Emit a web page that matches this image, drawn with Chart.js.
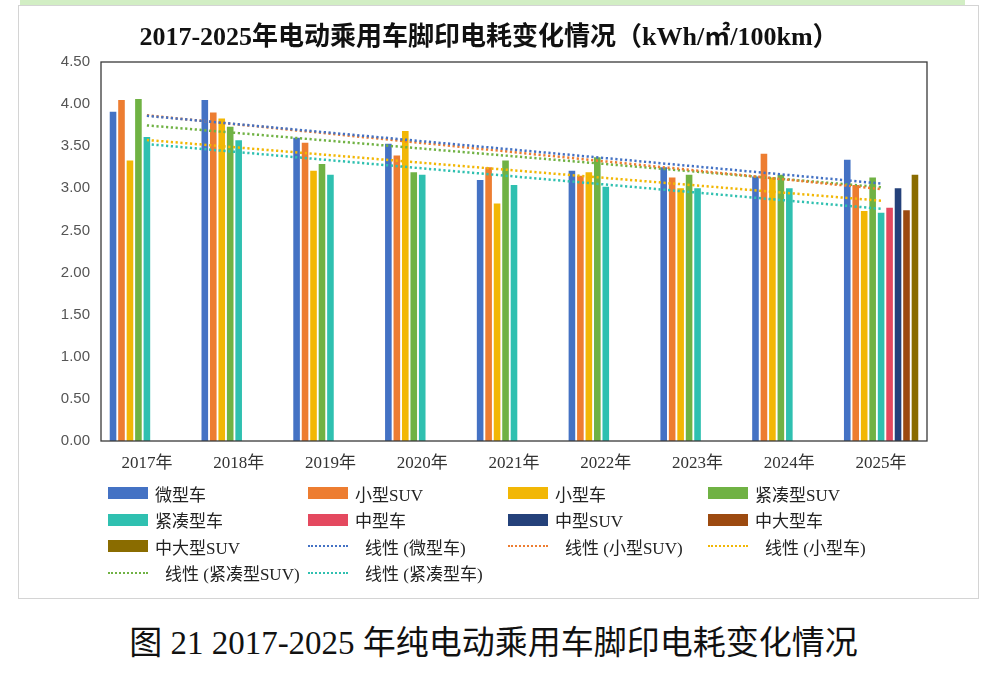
<!DOCTYPE html>
<html>
<head>
<meta charset="utf-8">
<script src="https://cdn.jsdelivr.net/npm/chart.js@4"></script>
<style>
    html, body { margin: 0; padding: 0; background: #ffffff; }
    body { width: 987px; height: 682px; position: relative; overflow: hidden; }
    .topband { position: absolute; left: 20px; top: 0; width: 945px; height: 5px; background: #d2eec4; }
    .frame { position: absolute; left: 18px; top: 5px; width: 961px; height: 594px;
             border: 1px solid #d4d4d4; box-sizing: border-box; background: #fff; }
    .chartbox { position: absolute; left: 18px; top: 5px; width: 962px; height: 480px; }
    .legend { position: absolute; left: 108px; top: 480px; width: 820px;
              display: grid; grid-template-columns: repeat(4, 200px); grid-auto-rows: 26.5px;
              font-family: "Liberation Serif", "Noto Sans CJK SC", serif; font-size: 17px; color: #222; }
    .legend .item { display: flex; align-items: center; white-space: nowrap; }
    .legend .sw { width: 40px; height: 12px; margin-right: 7px; flex: none; }
    .legend .dot { width: 40px; height: 0; border-top: 2px dotted; margin-right: 17px; flex: none; }
    .caption { position: absolute; left: 0; width: 987px; top: 616px; text-align: center;
               font-family: "Liberation Serif", "Noto Sans CJK SC", serif; font-size: 33px; color: #111; }
</style>
</head>
<body>
<div class="topband"></div>
<div class="frame"></div>
<div class="chartbox"><canvas id="footprintChart"></canvas></div>
<div class="legend" id="legend"></div>
<div class="caption">图 21 2017-2025 年纯电动乘用车脚印电耗变化情况</div>
<script>
    const categories = ['2017年', '2018年', '2019年', '2020年', '2021年', '2022年', '2023年', '2024年', '2025年'];

    const microCar    = [3.91, 4.05, 3.60, 3.53, 3.10, 3.21, 3.25, 3.14, 3.34];
    const smallSuv    = [4.05, 3.90, 3.54, 3.39, 3.25, 3.15, 3.13, 3.41, 3.04];
    const smallCar    = [3.33, 3.83, 3.21, 3.68, 2.82, 3.19, 3.00, 3.13, 2.73];
    const compactSuv  = [4.06, 3.73, 3.29, 3.19, 3.33, 3.37, 3.16, 3.16, 3.13];
    const compactCar  = [3.61, 3.57, 3.16, 3.16, 3.04, 3.02, 3.00, 3.00, 2.71];
    const midCar      = [null, null, null, null, null, null, null, null, 2.77];
    const midSuv      = [null, null, null, null, null, null, null, null, 3.00];
    const midLargeCar = [null, null, null, null, null, null, null, null, 2.74];
    const midLargeSuv = [null, null, null, null, null, null, null, null, 3.16];

    const yTicks = [0, 0.5, 1, 1.5, 2, 2.5, 3, 3.5, 4, 4.5];

    const barSeries = [
        { label: '微型车', data: microCar, color: '#4472c4', trend: true },
        { label: '小型SUV', data: smallSuv, color: '#ed7d31', trend: true },
        { label: '小型车', data: smallCar, color: '#f2b705', trend: true },
        { label: '紧凑型SUV', data: compactSuv, color: '#70b244', trend: true },
        { label: '紧凑型车', data: compactCar, color: '#2fc0b0', trend: true },
        { label: '中型车', data: midCar, color: '#e4495f' },
        { label: '中型SUV', data: midSuv, color: '#24417a' },
        { label: '中大型车', data: midLargeCar, color: '#9c4a10' },
        { label: '中大型SUV', data: midLargeSuv, color: '#8a6c00' },
    ];

    // least-squares trend over the category index, like Excel's linear trendline
    function linearTrend(values) {
        const n = values.length;
        let sx = 0, sy = 0, sxy = 0, sxx = 0;
        values.forEach((v, i) => {
            const x = i + 1;
            sx += x; sy += v; sxy += x * v; sxx += x * x;
        });
        const slope = (n * sxy - sx * sy) / (n * sxx - sx * sx);
        const icpt = (sy - slope * sx) / n;
        return values.map((v, i) => icpt + slope * (i + 1));
    }

    const datasets = [];

    barSeries.forEach((s) => {
        datasets.push({
            type: 'bar',
            label: s.label,
            data: s.data,
            backgroundColor: s.color,
            borderWidth: 0,
            categoryPercentage: 0.83,
            barPercentage: 0.78,
            order: 2,
        });
    });

    barSeries.filter((s) => s.trend).forEach((s) => {
        datasets.push({
            type: 'line',
            label: '线性 (' + s.label + ')',
            data: linearTrend(s.data),
            borderColor: s.color,
            borderWidth: 2.5,
            borderDash: [2.2, 2.6],
            borderCapStyle: 'butt',
            pointRadius: 0,
            fill: false,
            tension: 0,
            order: 1,
        });
    });

    // outline round the plot area
    const frameBox = {
        id: 'frameBox',
        afterDatasetsDraw(chart) {
            const a = chart.chartArea;
            const ctx = chart.ctx;
            ctx.save();
            ctx.strokeStyle = '#3a3a3a';
            ctx.lineWidth = 1.3;
            ctx.strokeRect(a.left, a.top, a.right - a.left, a.bottom - a.top);
            ctx.restore();
        },
    };

    const chart = new Chart(document.getElementById('footprintChart'), {
        data: { labels: categories, datasets },
        plugins: [frameBox],
        options: {
            responsive: true,
            maintainAspectRatio: false,
            animation: false,
            layout: { padding: { left: 33, right: 53, top: 0, bottom: 4 } },
            plugins: {
                legend: { display: false },
                tooltip: { enabled: false },
                title: {
                    display: true,
                    text: '2017-2025年电动乘用车脚印电耗变化情况（kWh/㎡/100km）',
                    color: '#111',
                    font: { family: '"Liberation Serif", "Noto Sans CJK SC", serif', size: 26, weight: 'bold', lineHeight: 1.2 },
                    padding: { top: 18, bottom: 7.8 },
                },
            },
            scales: {
                x: {
                    grid: { display: false, drawTicks: false },
                    border: { display: false },
                    afterFit(scale) { scale.height = 40; },
                    ticks: {
                        padding: 12,
                        color: '#333',
                        font: { family: '"Liberation Serif", "Noto Sans CJK SC", serif', size: 17 },
                        maxRotation: 0,
                    },
                },
                y: {
                    min: 0,
                    max: 4.5,
                    afterBuildTicks(scale) { scale.ticks = yTicks.map((v) => ({ value: v })); },
                    afterFit(scale) { scale.width = 50; },
                    grid: { display: false, drawTicks: false },
                    border: { display: false },
                    ticks: {
                        padding: 11,
                        color: '#555',
                        font: { family: '"Liberation Sans", sans-serif', size: 15 },
                        callback(value) { return Number(value).toFixed(2); },
                    },
                },
            },
        },
    });

    // legend laid out as a 4-column grid, built from the datasets
    const legendEl = document.getElementById('legend');
    chart.data.datasets.forEach((ds) => {
        const item = document.createElement('div');
        item.className = 'item';
        const sw = document.createElement('span');
        if (ds.type === 'line') {
            sw.className = 'dot';
            sw.style.borderTopColor = ds.borderColor;
        } else {
            sw.className = 'sw';
            sw.style.background = ds.backgroundColor;
        }
        const tx = document.createElement('span');
        tx.textContent = ds.label;
        item.appendChild(sw);
        item.appendChild(tx);
        legendEl.appendChild(item);
    });
</script>
</body>
</html>
